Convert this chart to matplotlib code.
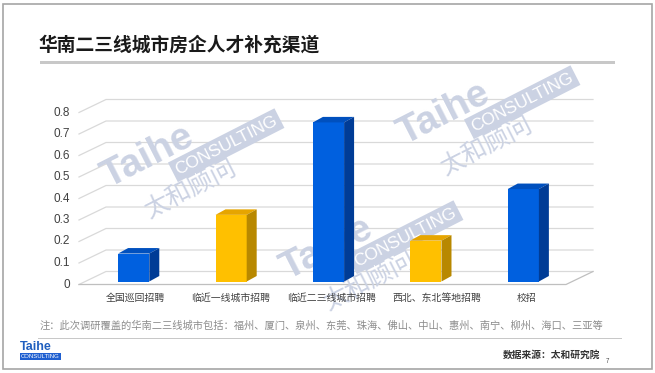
import math
import matplotlib
matplotlib.use('Agg')
import matplotlib.pyplot as plt
from matplotlib.patches import Polygon, Rectangle

plt.rcParams['font.family'] = ['Noto Sans CJK SC', 'DejaVu Sans']

title = '华南二三线城市房企人才补充渠道'
categories = ['全国巡回招聘', '临近一线城市招聘', '临近二三线城市招聘', '西北、东北等地招聘', '校招']
values = [0.13, 0.31, 0.74, 0.19, 0.43]
yticks = [0, 0.1, 0.2, 0.3, 0.4, 0.5, 0.6, 0.7, 0.8]
ytick_labels = ['0', '0.1', '0.2', '0.3', '0.4', '0.5', '0.6', '0.7', '0.8']
note = '注：此次调研覆盖的华南二三线城市包括：福州、厦门、泉州、东莞、珠海、佛山、中山、惠州、南宁、柳州、海口、三亚等'
source = '数据来源：太和研究院'

W, H = 655, 373
blue = ('#0060df', '#0050be', '#003c96')    # front, top, side
yellow = ('#ffc000', '#e6a500', '#b88800')
bar_colors = [blue, yellow, blue, yellow, blue]
label_shift = [0.08, 0.06, 0.09, 0.17, 0.1]

def fx(x):
    return x / W

def fy(y):
    return 1 - y / H

fig = plt.figure(figsize=(6.55, 3.73), dpi=100)
fig.patch.set_facecolor('white')

# outer frame
fig.add_artist(Rectangle((fx(3), fy(369)), fx(649), 365 / H, transform=fig.transFigure,
                         fill=False, ec='#a6a6a6', lw=1.2))

# title + underline
fig.text(fx(38), fy(45), title, fontsize=13.5, fontweight='bold', color='#1a1a1a', va='center')
fig.add_artist(Rectangle((fx(40), fy(64)), fx(575), 3 / H, transform=fig.transFigure,
                         fc='#c8c8c8', ec='none'))

ax = fig.add_axes([79 / W, (H - 284.5) / H, 487 / W, 172 / H])
ax.set_xlim(-0.5, 4.5)
ax.set_ylim(0, 0.8)
ax.axis('off')

# 3d geometry in data units
fdx, fdy = 27 / 97.4, 13 / 215      # floor depth
ox, oy = 6 / 97.4, 3 / 215          # bar placement inside depth
bw = 0.32
bdx, bdy = 10 / 97.4, 5.5 / 215      # bar depth

# gridlines (side wall diagonal + back wall)
for t in yticks:
    ax.plot([-0.5, -0.5 + fdx, 4.5 + fdx], [t, t + fdy, t + fdy], color='#d9d9d9', lw=0.9,
            clip_on=False, zorder=0.5)
ax.plot([-0.5, 4.5, 4.5 + fdx], [0, 0, fdy], color='#bfbfbf', lw=0.9, clip_on=False, zorder=0.5)

for t, lab in zip(yticks, ytick_labels):
    ax.text(-0.592, t, lab, ha='right', va='center', fontsize=8.5, color='#404040',
            family='Liberation Sans')

# bars
xs = [i + ox for i in range(len(values))]
ax.bar(xs, values, width=bw, bottom=oy, color=[c[0] for c in bar_colors], zorder=3, clip_on=False)
for x, v, c in zip(xs, values, bar_colors):
    x0, x1 = x - bw / 2, x + bw / 2
    top = oy + v
    ax.add_patch(Polygon([(x0, top), (x1, top), (x1 + bdx, top + bdy), (x0 + bdx, top + bdy)],
                         closed=True, fc=c[1], ec='none', zorder=3, clip_on=False))
    ax.add_patch(Polygon([(x1, oy), (x1 + bdx, oy + bdy), (x1 + bdx, top + bdy), (x1, top)],
                         closed=True, fc=c[2], ec='none', zorder=3, clip_on=False))

for i, lab in enumerate(categories):
    ax.text(i + label_shift[i], -0.062, lab, ha='center', va='center', fontsize=7.1,
            color='#404040')

# watermarks
ang = 27
wm = '#cbd2e3'
def watermark(cx, cy):
    c, s = math.cos(math.radians(ang)), math.sin(math.radians(ang))
    def pos(u, v):
        return fx(cx + u * c - v * s), fy(cy - u * s - v * c)
    ax.text(*pos(0, 0), 'Taihe', transform=fig.transFigure, rotation=ang, rotation_mode='anchor',
            ha='center', va='center', fontsize=28, fontweight='bold', color=wm,
            family='Liberation Sans', zorder=1)
    ax.text(*pos(75, -25), 'CONSULTING', transform=fig.transFigure, rotation=ang,
            rotation_mode='anchor', ha='center', va='center', fontsize=12.5, color='white',
            family='Liberation Sans', zorder=1,
            bbox=dict(boxstyle='square,pad=0.2', fc=wm, ec='none'))
    ax.text(*pos(23, -49), '太和顾问', transform=fig.transFigure, rotation=ang,
            rotation_mode='anchor', ha='center', va='center', fontsize=18, color=wm, zorder=1)

watermark(148, 157)
watermark(444, 114)
watermark(327, 249)

# footer
fig.text(fx(40), fy(326), note, fontsize=7.4, color='#8c8c8c', va='center')
fig.add_artist(Rectangle((fx(38), fy(338.5)), fx(584), 1 / H, transform=fig.transFigure,
                         fc='#c8c8c8', ec='none'))
fig.text(fx(20), fy(347), 'Taihe', fontsize=9, fontweight='bold', color='#1f5fbf',
         va='center', family='Liberation Sans')
fig.text(fx(21), fy(356.5), 'CONSULTING', fontsize=4.3, color='white', va='center',
         family='Liberation Sans',
         bbox=dict(boxstyle='square,pad=0.25', fc='#1f5fd0', ec='none'))
fig.text(fx(600), fy(355), source, fontsize=7, fontweight='bold', color='#333333',
         ha='right', va='center')
fig.text(fx(606), fy(361), '7', fontsize=4.5, color='#555555', va='center')

fig.savefig('out.png', dpi=100)
